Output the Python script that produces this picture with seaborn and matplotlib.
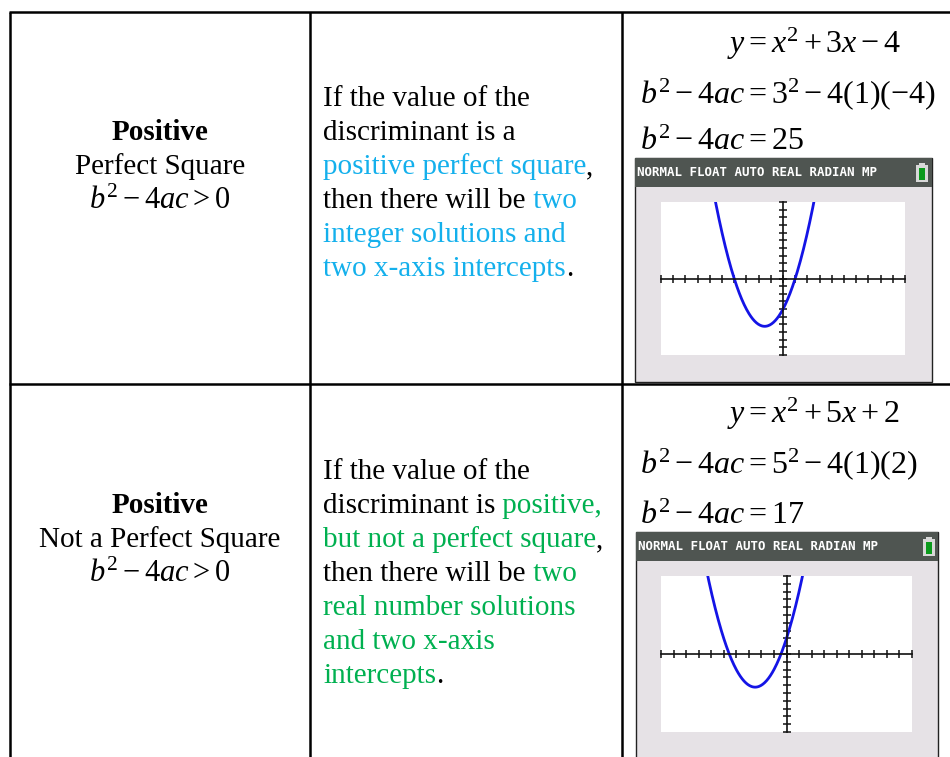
import numpy as np
import matplotlib
matplotlib.use("Agg")
from matplotlib import pyplot as plt
from matplotlib.patches import Rectangle
import seaborn as sns

# table content
row_kind = ["Positive", "Positive"]
row_sub = ["Perfect Square", "Not a Perfect Square"]
row_cond = [r"$b^2-4ac>0$", r"$b^2-4ac>0$"]

blue = "#14b0ec"
green = "#00b050"
desc_lines = [
    [
        [("If the value of the", "black")],
        [("discriminant is a", "black")],
        [("positive perfect square", blue), (",", "black")],
        [("then there will be", "black"), (" two", blue)],
        [("integer solutions and", blue)],
        [("two x-axis intercepts", blue), (".", "black")],
    ],
    [
        [("If the value of the", "black")],
        [("discriminant is", "black"), (" positive,", green)],
        [("but not a perfect square", green), (",", "black")],
        [("then there will be", "black"), (" two", green)],
        [("real number solutions", green)],
        [("and two x-axis", green)],
        [("intercepts", green), (".", "black")],
    ],
]

eq_text = [r"$y=x^2+3x-4$", r"$y=x^2+5x+2$"]
disc_text = [r"$b^2-4ac=3^2-4(1)(-4)$", r"$b^2-4ac=5^2-4(1)(2)$"]
res_text = [r"$b^2-4ac=25$", r"$b^2-4ac=17$"]

# quadratic coefficients and the calculator window
coef_a = [1, 1]
coef_b = [3, 5]
coef_c = [-4, 2]
win_x = [-10, 10]
win_y = [-10, 10]

sns.set_theme(style="white")
plt.rcParams["font.family"] = ["Liberation Serif", "DejaVu Serif"]
plt.rcParams["text.color"] = "black"
plt.rcParams["mathtext.fontset"] = "custom"
plt.rcParams["mathtext.rm"] = "Liberation Serif"
plt.rcParams["mathtext.it"] = "Liberation Serif:italic"
plt.rcParams["mathtext.bf"] = "Liberation Serif:bold"

W, H = 950, 757
fig = plt.figure(figsize=(W / 100, H / 100), dpi=100)
ax = fig.add_axes([0, 0, 1, 1])
ax.set_xlim(0, W)
ax.set_ylim(H, 0)
ax.axis("off")

# grid lines of the table
lw = 1.8
for yy in [12, 384]:
    ax.plot([9, W], [yy, yy], color="black", lw=lw, solid_capstyle="butt")
for xx in [10, 310, 622]:
    ax.plot([xx, xx], [12, H], color="black", lw=lw, solid_capstyle="butt")

fs = 21
row_off = [0, 373]


def draw_runs(x, y, runs):
    t = ax.text(x, y, runs[0][0], color=runs[0][1], fontsize=fs, va="baseline")
    for s, c in runs[1:]:
        t = ax.annotate(s, xy=(1, 0), xycoords=t, color=c, fontsize=fs,
                        va="bottom")


for i in range(2):
    off = row_off[i]
    ax.text(160, 140 + off, row_kind[i], fontsize=fs, fontweight="bold",
            ha="center", va="baseline", color="black")
    ax.text(160, 174 + off, row_sub[i], fontsize=fs, ha="center",
            va="baseline", color="black")
    ax.text(160, 209 + off, row_cond[i], fontsize=fs + 1, ha="center",
            va="baseline", color="black")

    base = 106 if i == 0 else 479
    for k, runs in enumerate(desc_lines[i]):
        draw_runs(323, base + 34 * k, runs)

    ax.text(727, 53 + off - (0 if i == 0 else 3), eq_text[i], fontsize=fs + 2,
            va="baseline", color="black")
    ax.text(640, 103 + off - (0 if i == 0 else 3), disc_text[i], fontsize=fs + 2,
            va="baseline", color="black")
    ax.text(640, 150 + off - (0 if i == 0 else -1), res_text[i], fontsize=fs + 2,
            va="baseline", color="black")

# calculator screens: outer box, header band, plot area
screens = [
    dict(box=(635, 158, 932, 382), head=187, plot=(661, 202, 905, 355), bat=(916, 163)),
    dict(box=(636, 532, 938, 770), head=561, plot=(661, 576, 912, 732), bat=(923, 537)),
]

for i, sc in enumerate(screens):
    x0, y0, x1, y1 = sc["box"]
    ax.add_patch(Rectangle((x0, y0), x1 - x0, y1 - y0, facecolor="#e6e2e6",
                           edgecolor="#222222", lw=1.0, zorder=2))
    ax.add_patch(Rectangle((x0, y0), x1 - x0, sc["head"] - y0, facecolor="#4f5551",
                           edgecolor="none", zorder=3))
    ax.text(x0 + 2, y0 + 14, "NORMAL FLOAT AUTO REAL RADIAN MP", color="white",
            fontsize=9, fontweight="bold", family="DejaVu Sans Mono",
            va="center", ha="left", zorder=4)
    bx, by = sc["bat"]
    ax.add_patch(Rectangle((bx, by + 2), 12, 17, facecolor="#d8d8d8",
                           edgecolor="none", zorder=4))
    ax.add_patch(Rectangle((bx + 3, by), 6, 2, facecolor="#d8d8d8",
                           edgecolor="none", zorder=4))
    ax.add_patch(Rectangle((bx + 3, by + 5), 6, 12, facecolor="#0b9a1c",
                           edgecolor="none", zorder=5))

    px0, py0, px1, py1 = sc["plot"]
    gax = fig.add_axes([px0 / W, 1 - py1 / H, (px1 - px0) / W, (py1 - py0) / H])
    gax.set_facecolor("white")
    xs = np.linspace(win_x[0], win_x[1], 400)
    ys = coef_a[i] * xs ** 2 + coef_b[i] * xs + coef_c[i]
    sns.lineplot(x=xs, y=ys, ax=gax, color="#1414e6", lw=2.0, sort=False)
    gax.set_xlim(win_x)
    gax.set_ylim(win_y)
    for side in ["top", "right"]:
        gax.spines[side].set_visible(False)
    gax.spines["left"].set_position("zero")
    gax.spines["bottom"].set_position("zero")
    for side in ["left", "bottom"]:
        gax.spines[side].set_color("#111111")
        gax.spines[side].set_linewidth(1.2)
    gax.set_xticks(np.arange(win_x[0], win_x[1] + 1))
    gax.set_yticks(np.arange(win_y[0], win_y[1] + 1))
    gax.set_xticklabels([])
    gax.set_yticklabels([])
    gax.tick_params(direction="inout", length=6, width=1.1, color="#111111",
                    bottom=True, left=True)
    gax.set_xlabel("")
    gax.set_ylabel("")
    gax.grid(False)

fig.savefig("out.png", dpi=100)
